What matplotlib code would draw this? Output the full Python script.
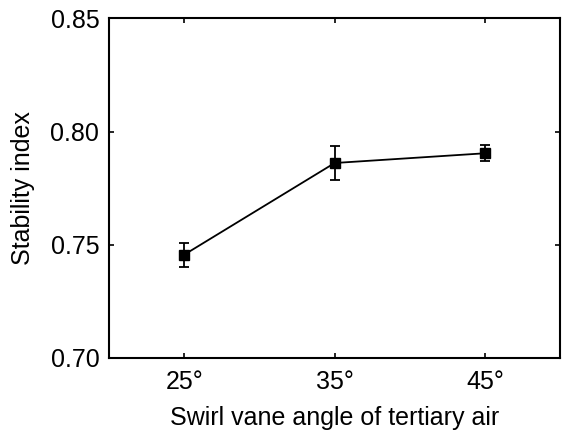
import matplotlib
matplotlib.use('Agg')
import matplotlib.pyplot as plt

# 데이터
angles = [25, 35, 45]
angle_labels = ['25°', '35°', '45°']
stability = [0.7456, 0.7861, 0.7904]
stability_err = [0.0053, 0.0076, 0.0035]

plt.rcParams['font.family'] = ['Liberation Sans', 'DejaVu Sans']

fig = plt.figure(figsize=(5.62, 4.37), dpi=100)
ax = fig.add_axes([0.194, 0.181, 0.803, 0.777])

ax.errorbar(angles, stability, yerr=stability_err, color='black', lw=1.3,
            marker='s', markersize=6.8, capsize=3.5, elinewidth=1.3, capthick=1.3)

ax.set_xlim(20, 50)
ax.set_ylim(0.70, 0.85)
ax.set_xticks(angles)
ax.set_xticklabels(angle_labels)
ax.set_yticks([0.70, 0.75, 0.80, 0.85])
ax.set_yticklabels(['0.70', '0.75', '0.80', '0.85'])
ax.tick_params(direction='in', top=True, right=True, length=3.5, width=1.2,
               labelsize=18, pad=7)
ax.tick_params(axis='x', pad=9)
for s in ax.spines.values():
    s.set_linewidth(1.5)

ax.set_xlabel('Swirl vane angle of tertiary air', fontsize=18, labelpad=8)
ax.set_ylabel('Stability index', fontsize=18, labelpad=11)

plt.savefig('out.png', dpi=100)
plt.close()
